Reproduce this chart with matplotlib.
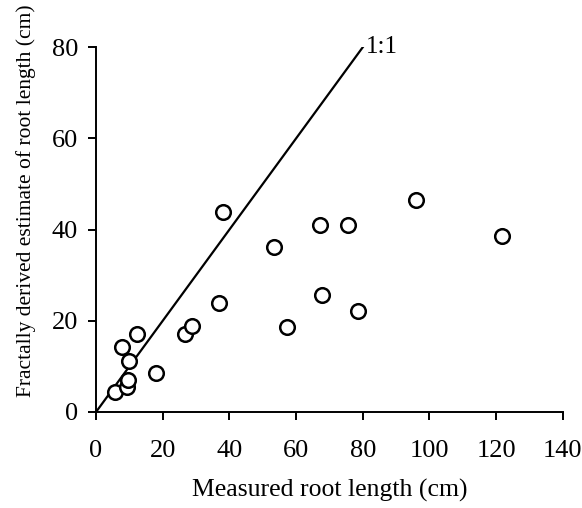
import matplotlib
matplotlib.use("Agg")
import matplotlib.pyplot as plt

# measured vs fractally derived root length (cm)
measured = [5.7, 7.9, 9.2, 9.7, 10.0, 12.2, 18.0,
            26.7, 28.7, 37.0, 38.2, 53.4, 57.3, 67.3,
            67.7, 75.7, 78.7, 95.9, 121.9]
estimated = [4.3, 14.2, 5.5, 7.0, 11.2, 17.1, 8.5,
             17.1, 18.8, 23.8, 43.8, 36.2, 18.7, 41.1,
             25.6, 41.1, 22.1, 46.5, 38.6]
one_to_one = [0, 80]
x_ticks = [0, 20, 40, 60, 80, 100, 120, 140]
y_ticks = [0, 20, 40, 60, 80]

plt.rcParams['font.family'] = ['Liberation Serif', 'DejaVu Serif']

fig = plt.figure(figsize=(5.82, 5.08), dpi=100)
ax = fig.add_axes([0.165, 0.189, 0.802, 0.718])

ax.plot(one_to_one, one_to_one, color='black', lw=1.6)
ax.text(81, 80, '1:1', fontsize=18, va='center', ha='left')
ax.plot(measured, estimated, 'o', mfc='white', mec='black', mew=1.8, ms=10.5,
        linestyle='none', clip_on=False)

ax.set_xlim(0, 140)
ax.set_ylim(0, 80)
ax.set_xticks(x_ticks)
ax.set_yticks(y_ticks)
ax.tick_params(direction='out', length=6, width=1.4, labelsize=19)
ax.tick_params(axis='x', pad=14)
ax.tick_params(axis='y', pad=7)
for side in ['top', 'right']:
    ax.spines[side].set_visible(False)
for side in ['left', 'bottom']:
    ax.spines[side].set_linewidth(1.4)

ax.set_xlabel('Measured root length (cm)', fontsize=18.5, labelpad=12)
ax.set_ylabel('Fractally derived estimate of root length (cm)', fontsize=15.5)
ax.yaxis.set_label_coords(-0.128, 0.58)

fig.savefig('out.png', dpi=100)
